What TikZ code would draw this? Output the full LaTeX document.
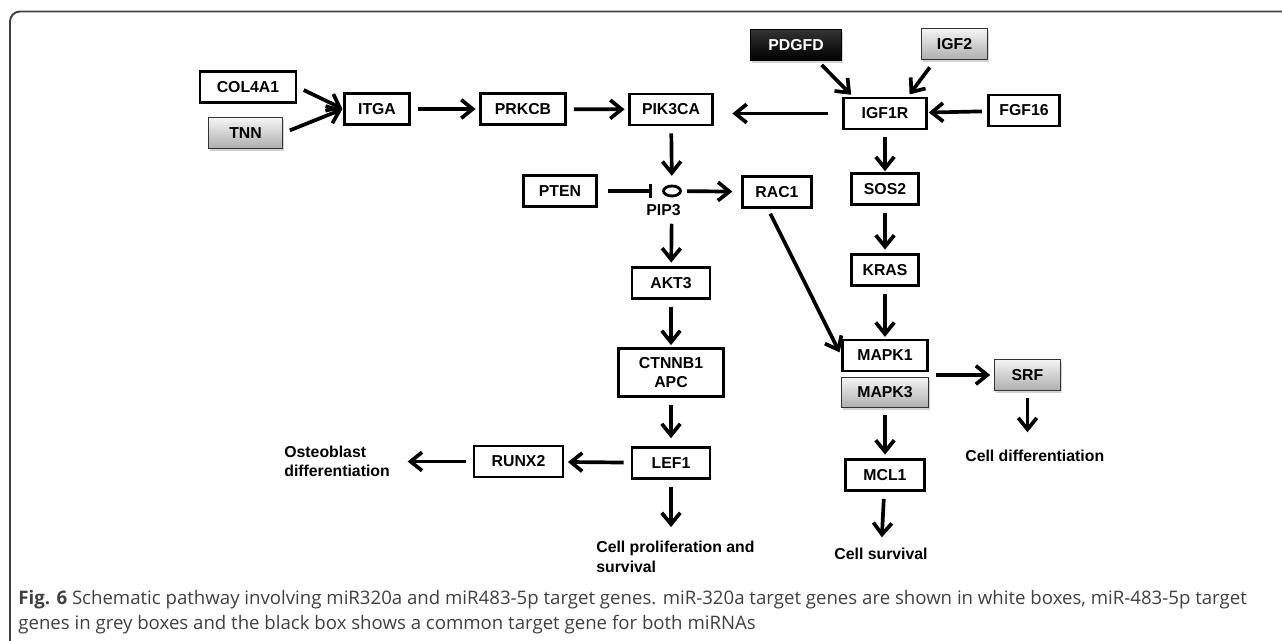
\documentclass[tikz,border=0pt]{standalone}
\usepackage{fontspec}
\setmainfont{Liberation Sans}
\newfontfamily\capfont{Open Sans}
\usetikzlibrary{arrows.meta,shadows,shapes.geometric}

\begin{document}
\begin{tikzpicture}[x=0.02cm,y=-0.02cm,
	gene/.style={draw,line width=1.6pt,minimum height=0.62cm,inner sep=0pt,font=\bfseries\fontsize{9}{11}\selectfont},
	grey/.style={gene,draw=black!80,line width=0.9pt,top color=black!4,bottom color=black!32,drop shadow={shadow xshift=0.6pt,shadow yshift=-1.2pt,opacity=0.35}},
	dark/.style={gene,draw=black,line width=0.9pt,top color=black!80,bottom color=black,text=white,drop shadow={shadow xshift=0.6pt,shadow yshift=-1.2pt,opacity=0.35}},
	outcome/.style={align=left,inner sep=0pt,font=\bfseries\fontsize{9}{11}\selectfont},
	link/.style={-{Straight Barb[length=6.5pt,width=10.5pt]},line width=2.1pt,shorten <=4pt,shorten >=2pt}]
		
		\useasboundingbox (0,0) rectangle (1282,641);
		\draw[line width=1.1pt,black!75,rounded corners=0.2cm] (10,641) -- (10,11.5) -- (1282,11.5);
		
		\node(1) at (248,87)[gene,minimum width=1.92cm]{COL4A1};
		\node(2) at (245.5,133)[grey,minimum width=1.48cm]{TNN};
		\node(3) at (377,109)[gene,minimum width=1.3cm]{ITGA};
		\node(4) at (523,109)[gene,minimum width=1.7cm]{PRKCB};
		\node(5) at (671,109.5)[gene,minimum width=1.66cm]{PIK3CA};
		\node(6) at (796,45)[dark,minimum width=1.82cm]{PDGFD};
		\node(7) at (954.5,44)[grey,minimum width=1.32cm]{IGF2};
		\node(8) at (885,113.5)[gene,minimum width=1.66cm]{IGF1R};
		\node(9) at (1024,110.5)[gene,minimum width=1.42cm]{FGF16};
		\node(10) at (560,191)[gene,minimum width=1.46cm]{PTEN};
		\node(11) at (672,191)[ellipse,draw,line width=1.6pt,minimum width=0.34cm,minimum height=0.2cm,inner sep=0pt]{};
		\node(12) at (777,192)[gene,minimum width=1.38cm]{RAC1};
		\node(13) at (885,189)[gene,minimum width=1.34cm]{SOS2};
		\node(14) at (885,270)[gene,minimum width=1.34cm]{KRAS};
		\node(15) at (671,283)[gene,minimum width=1.56cm]{AKT3};
		\node(16) at (671,372.5)[gene,minimum width=2.1cm,minimum height=0.97cm,align=center]{CTNNB1\\APC};
		\node(17) at (885,355.5)[gene,minimum width=1.7cm]{MAPK1};
		\node(18) at (885,392.5)[grey,minimum width=1.74cm,minimum height=0.6cm]{MAPK3};
		\node(19) at (1027.5,375)[grey,minimum width=1.32cm]{SRF};
		\node(20) at (671,463)[gene,minimum width=1.56cm]{LEF1};
		\node(21) at (518.5,461.5)[gene,minimum width=1.78cm]{RUNX2};
		\node(22) at (885,475)[gene,minimum width=1.58cm]{MCL1};
		\node(23) at (663.5,210)[outcome]{PIP3};
		\node(24) at (284,461.5)[outcome,anchor=west]{Osteoblast\\differentiation};
		\node(25) at (596,557)[outcome,anchor=west]{Cell proliferation and\\survival};
		\node(26) at (881,554)[outcome]{Cell survival};
		\node(27) at (965,456)[outcome,anchor=west]{Cell differentiation};
		
		\draw[link,shorten >=0.5pt] (1.east) -- (3.west);
		\draw[link,shorten >=0.5pt] (2.east) -- (3.west);
		\draw[link] (3) -- (4);
		\draw[link] (4) -- (5);
		\draw[link,shorten <=8pt,shorten >=10.5pt] (8.west) -- (8.west -| 5.east);
		\draw[link,shorten <=3pt,shorten >=0.5pt] (9) -- (8);
		\draw[link,shorten <=3pt,shorten >=1.5pt] ([xshift=0.44cm]6.south) -- ([xshift=-0.64cm]8.north);
		\draw[link,shorten <=5pt,shorten >=1.5pt] ([xshift=-0.39cm]7.south) -- ([xshift=0.46cm]8.north);
		\draw[link,shorten >=0.5pt] (8) -- (13);
		\draw[link] (13) -- (14);
		\draw[link,shorten >=1pt] (14) -- (17);
		\draw[link,shorten <=3pt,shorten >=2pt] ([xshift=-0.18cm]12.south) -- (17.west);
		\draw[link] (19.west -| 18.east) -- (19);
		\draw[link] (18) -- (22);
		\draw[link,shorten >=6pt] (22) -- (26);
		\draw[link,shorten >=10pt] (19) -- (19 |- 27.north);
		\draw[line width=2.1pt,-{Bar[width=8pt]},shorten <=6pt,shorten >=5.5pt] (10) -- (11);
		\draw[link,shorten <=3pt,shorten >=5pt] (11) -- (12);
		\draw[link,shorten >=5pt] (5) -- (11);
		\draw[link,shorten <=15pt] (11) -- (15);
		\draw[link,shorten >=1pt] (15) -- (16);
		\draw[link,shorten >=4.5pt] (16) -- (20);
		\draw[link] (20) -- (21);
		\draw[link,shorten >=10pt] (21) -- (24);
		\draw[link,shorten >=8pt] (20) -- (20 |- 25.north);
		
		\node(28) at (18,605)[anchor=base west,inner sep=0pt,text=black!75,font=\capfont\fontsize{10.6}{13}\selectfont]{\textbf{Fig. 6} Schematic pathway involving miR320a and miR483-5p target genes. miR-320a target genes are shown in white boxes, miR-483-5p target};
		\node(29) at (18,630)[anchor=base west,inner sep=0pt,text=black!75,font=\capfont\fontsize{10.6}{13}\selectfont]{genes in grey boxes and the black box shows a common target gene for both miRNAs};
		
	\end{tikzpicture}
\end{document}
